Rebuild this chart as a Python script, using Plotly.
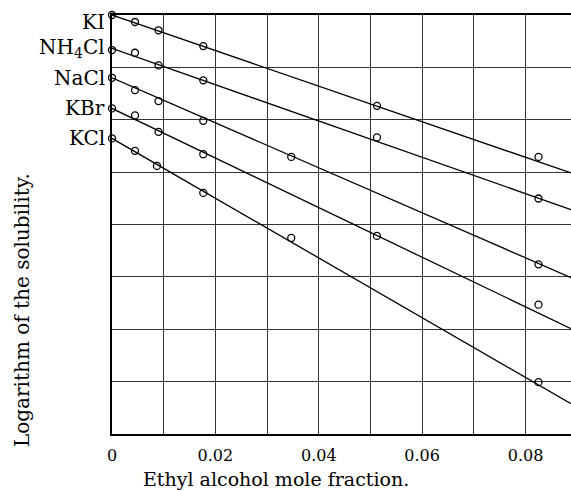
import plotly.graph_objects as go

# ---- data ----
salts = ["KI", "NH<sub>4</sub>Cl", "NaCl", "KBr", "KCl"]

x_KI = [0, 0.00445, 0.0090, 0.01766, 0.05126, 0.08251]
y_KI = [0.800, 0.7866, 0.7708, 0.7407, 0.6266, 0.5291]

x_NH4Cl = [0, 0.00445, 0.0090, 0.01766, 0.05126, 0.08251]
y_NH4Cl = [0.7331, 0.7279, 0.7038, 0.6752, 0.5662, 0.4496]

x_NaCl = [0, 0.00445, 0.0090, 0.01766, 0.03468, 0.08251]
y_NaCl = [0.6801, 0.6566, 0.6356, 0.5980, 0.5291, 0.3240]

x_KBr = [0, 0.00445, 0.0090, 0.01766, 0.05126, 0.08251]
y_KBr = [0.6216, 0.6082, 0.5769, 0.5342, 0.3782, 0.2469]

x_KCl = [0, 0.00445, 0.0087, 0.01766, 0.03468, 0.08251]
y_KCl = [0.5644, 0.5406, 0.5119, 0.4603, 0.3743, 0.0990]

# straight-line fits: value at x = 0 and at the right edge of the plot
fit_x = [0, 0.0888]
fit_KI = [0.800, 0.4984]
fit_NH4Cl = [0.7362, 0.4285]
fit_NaCl = [0.6801, 0.2986]
fit_KBr = [0.6216, 0.2011]
fit_KCl = [0.5644, 0.0577]

x_tickvals = [0, 0.01, 0.02, 0.03, 0.04, 0.05, 0.06, 0.07, 0.08]
x_ticktext = ["0", "", "0.02", "", "0.04", "", "0.06", "", "0.08"]
y_gridvals = [0, 0.1, 0.2, 0.3, 0.4, 0.5, 0.6, 0.7, 0.8]

series = [
    (salts[0], x_KI, y_KI, fit_KI),
    (salts[1], x_NH4Cl, y_NH4Cl, fit_NH4Cl),
    (salts[2], x_NaCl, y_NaCl, fit_NaCl),
    (salts[3], x_KBr, y_KBr, fit_KBr),
    (salts[4], x_KCl, y_KCl, fit_KCl),
]

FONT = "DejaVu Serif, Liberation Serif, serif"
W, H = 571, 491
L, R, T, B = 112, 0, 15, 57
pw = W - L - R
ph = H - T - B

fig = go.Figure()
for i, (name, xs, ys, fit) in enumerate(series):
    fig.add_trace(go.Scatter(x=fit_x, y=fit, mode="lines",
                             line=dict(color="black", width=1.3),
                             showlegend=False, hoverinfo="skip"))
    fig.add_trace(go.Scatter(x=xs, y=ys, mode="markers", name=name,
                             marker=dict(symbol="circle-open", size=7, color="black",
                                         line=dict(width=1.3, color="black")),
                             showlegend=False, cliponaxis=False))
    fig.add_annotation(x=0, y=fit[0], xref="x", yref="y", text=name,
                       showarrow=False, xanchor="right", yanchor="middle",
                       xshift=-5, yshift=(-7 if i == 0 else 0),
                       font=dict(family=FONT, size=20, color="black"))

# y-axis title
fig.add_annotation(x=(22 - L) / pw, y=(H - B - 310) / ph,
                   xref="paper", yref="paper", text="Logarithm of the solubility.",
                   showarrow=False, textangle=-90, xanchor="center", yanchor="middle",
                   font=dict(family=FONT, size=20, color="black"))
# x-axis title
fig.add_annotation(x=(276 - L) / pw, y=(H - B - 479) / ph,
                   xref="paper", yref="paper", text="Ethyl alcohol mole fraction.",
                   showarrow=False, xanchor="center", yanchor="middle",
                   font=dict(family=FONT, size=19, color="black"))

fig.update_layout(
    width=W, height=H,
    margin=dict(l=L, r=R, t=T, b=B),
    paper_bgcolor="white", plot_bgcolor="white",
    font=dict(family=FONT, size=16, color="black"),
    showlegend=False,
)

fig.update_xaxes(range=[0, 0.0888], tickvals=x_tickvals, ticktext=x_ticktext,
                 showgrid=True, gridcolor="#333", gridwidth=1,
                 showline=True, linecolor="black", linewidth=1.5, mirror=True,
                 ticks="", zeroline=False, ticklabelstandoff=6,
                 tickfont=dict(family=FONT, size=16))
fig.update_yaxes(range=[0, 0.8], tickvals=y_gridvals, showticklabels=False,
                 showgrid=True, gridcolor="#333", gridwidth=1,
                 showline=True, linecolor="black", linewidth=1.5, mirror=False,
                 ticks="", zeroline=False)

fig.write_html("out.html")
